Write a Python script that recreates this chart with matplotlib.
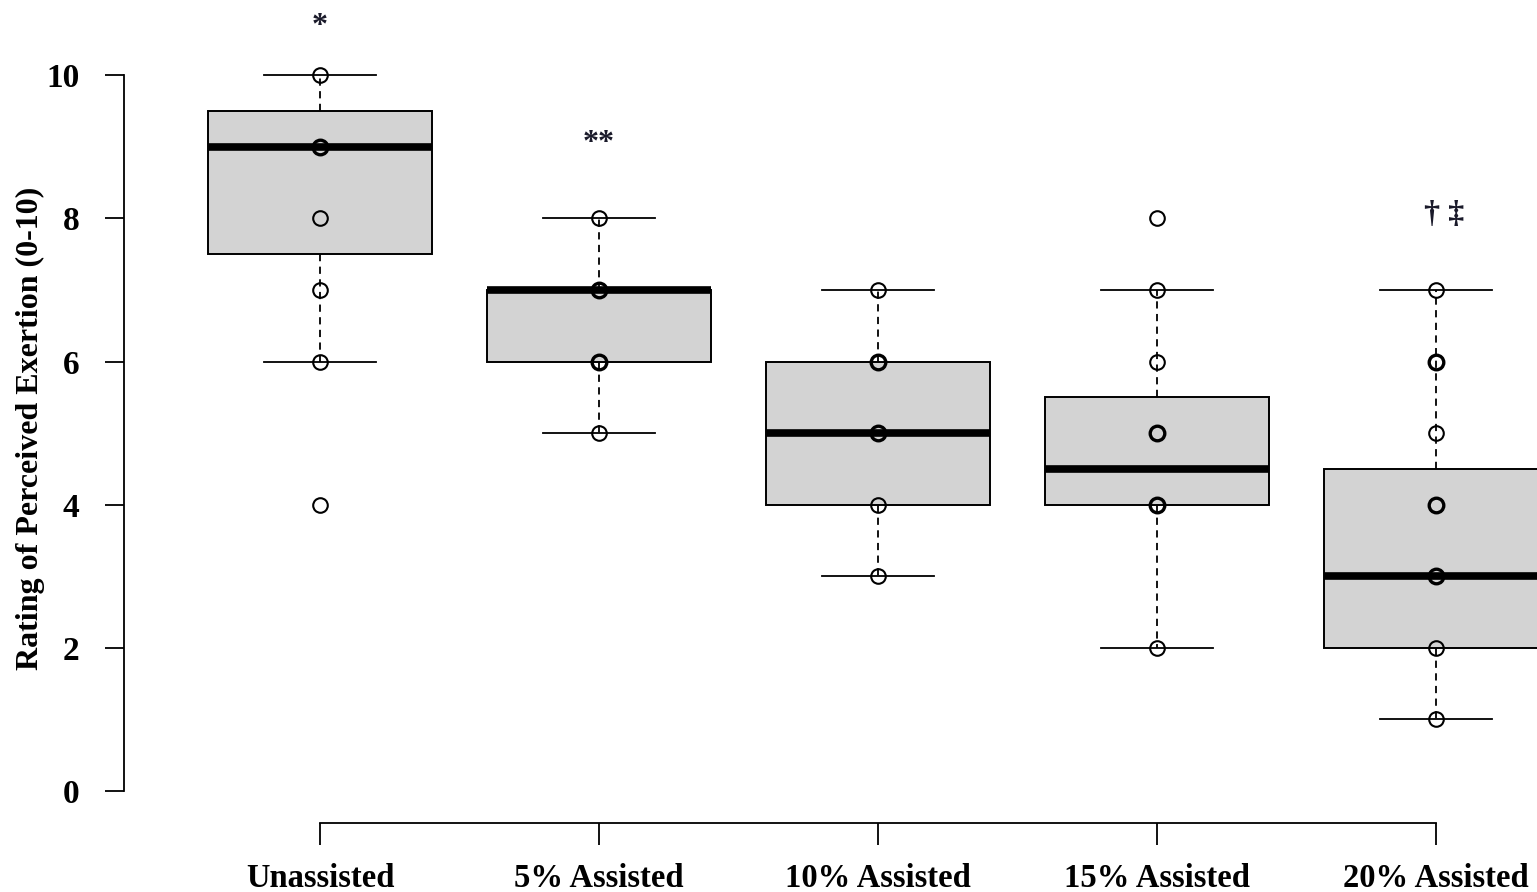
"""
RPE boxplot by assistance level, R base-graphics look.
"""

from collections import Counter

import matplotlib.pyplot as plt

plt.rcParams["font.family"] = ["Liberation Serif", "DejaVu Serif"]
plt.rcParams["font.weight"] = "bold"

conditions = ["Unassisted", "5% Assisted", "10% Assisted", "15% Assisted", "20% Assisted"]

# box statistics
whis_lo = [6, 5, 3, 2, 1]
q1 = [7.5, 6, 4, 4, 2]
median = [9, 7, 5, 4.5, 3]
q3 = [9.5, 7, 6, 5.5, 4.5]
whis_hi = [10, 8, 7, 7, 7]

# individual ratings (duplicates drawn heavier)
ratings = [
    [10, 9, 9, 8, 7, 6, 4],
    [8, 7, 7, 6, 6, 5],
    [7, 6, 6, 5, 5, 4, 3],
    [8, 7, 6, 5, 5, 4, 4, 2],
    [7, 6, 6, 5, 4, 4, 3, 3, 2, 1],
]

marks = ["*", "**", "\u2020 \u2021"]
mark_pos = [1, 2, 5.03]
mark_y = [10.68, 9.05, 8.05]

fig = plt.figure(figsize=(15.37, 8.92), dpi=100)
ax = fig.add_axes([0, 0, 1, 1])
ax.set_xlim(-0.147, 5.362)
ax.set_ylim(-1.41, 11.05)

stats = []
for i in range(len(conditions)):
    stats.append({
        "whislo": whis_lo[i], "q1": q1[i], "med": median[i],
        "q3": q3[i], "whishi": whis_hi[i], "label": conditions[i],
    })

ax.bxp(
    stats,
    positions=range(1, len(conditions) + 1),
    widths=0.8,
    capwidths=0.4,
    showfliers=False,
    patch_artist=True,
    boxprops=dict(facecolor="#d3d3d3", edgecolor="black", linewidth=1.4),
    medianprops=dict(color="black", linewidth=5.5, solid_capstyle="butt"),
    whiskerprops=dict(color="black", linewidth=1.3, linestyle=(0, (4, 3))),
    capprops=dict(color="black", linewidth=1.3),
)

for i, vals in enumerate(ratings):
    for v, n in Counter(vals).items():
        ax.plot(i + 1, v, "o", ms=10.5, mfc="none", mec="black",
                mew=1.5 if n == 1 else 2.4, zorder=5)

for txt, x, y in zip(marks, mark_pos, mark_y):
    ax.text(x, y, txt, ha="center", va="center", fontsize=23, color="#1a1a2a")

# detached R-style axes
for side in ["top", "right"]:
    ax.spines[side].set_visible(False)
ax.spines["left"].set_position(("data", 0.297))
ax.spines["left"].set_bounds(0, 10)
ax.spines["bottom"].set_position(("data", -0.447))
ax.spines["bottom"].set_bounds(1, 5)
ax.spines["left"].set_linewidth(1.3)
ax.spines["bottom"].set_linewidth(1.3)

ax.set_yticks(range(0, 11, 2))
ax.set_xticks(range(1, len(conditions) + 1))
ax.set_xticklabels(conditions)
ax.tick_params(axis="y", length=14, width=1.3, pad=18, labelsize=24)
ax.tick_params(axis="x", length=16, width=1.3, pad=13, labelsize=23.5)

ax.set_ylabel("Rating of Perceived Exertion (0-10)", fontsize=23, fontweight="bold")
ax.yaxis.set_label_coords(0.029, 1 - 428 / 892, transform=ax.transAxes)

fig.savefig("out.png", dpi=100)
